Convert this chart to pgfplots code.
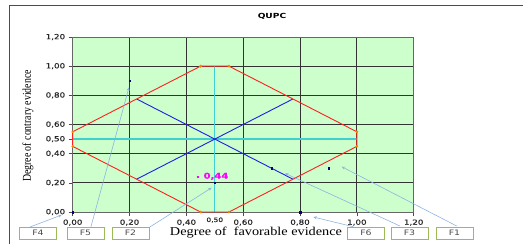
\documentclass[border=0pt]{standalone}
\usepackage{pgfplots}
\pgfplotsset{compat=1.18}
\usepackage{fontspec}
\setmainfont{Liberation Serif}
\newfontfamily\tickfont[FakeStretch=1.25,FakeBold=0.6]{DejaVu Sans}
\newfontfamily\boxfont[FakeStretch=1.25]{DejaVu Sans}
\newfontfamily\titlefont[FakeStretch=1.3]{DejaVu Sans}
\newfontfamily\xlabfont[FakeStretch=1.19]{Liberation Serif}
\newfontfamily\ylabfont[FakeStretch=0.82]{Liberation Serif}
\usetikzlibrary{arrows.meta}
\definecolor{bggreen}{HTML}{CCFFCC}
\definecolor{octred}{HTML}{FF2020}
\definecolor{octblue}{HTML}{2020E0}
\definecolor{turq}{HTML}{40D0D0}
\definecolor{navy}{HTML}{000080}
\definecolor{callblue}{HTML}{8DB4E2}
\definecolor{boxgreen}{HTML}{9BBB59}
\definecolor{magent}{HTML}{FF00FF}
\begin{document}
\begin{tikzpicture}[x=1pt,y=1pt]
\useasboundingbox (-72.7,-32) rectangle (450.3,212);
\draw[black!70, line width=0.8pt] (-63.7,-32) -- (-63.7,207) -- (450.3,207);
\begin{axis}[
  at={(0,0)}, anchor=south west,
  scale only axis, width=341pt, height=175pt,
  xmin=0, xmax=1.2, ymin=0, ymax=1.2,
  axis background/.style={fill=bggreen},
  axis line style={black!60, line width=0.6pt},
  xtick={0,0.2,0.4,0.6,0.8,1.0,1.2},
  ytick={0,0.2,0.4,0.6,0.8,1.0,1.2},
  extra y ticks={0.5},
  extra y tick style={grid=none},
  extra x ticks={0.5},
  extra x tick style={grid=none, major tick length=0pt, tick label style={yshift=-2pt, font=\tickfont\fontsize{6}{7}\selectfont}},
  grid=major,
  grid style={black!80, line width=0.9pt},
  tick align=outside,
  major tick length=4pt,
  tick style={black!70, line width=0.6pt},
  xtick pos=bottom, ytick pos=left,
  /pgf/number format/.cd, fixed, fixed zerofill, precision=2, use comma, assume math mode=true,
  /pgfplots/.cd,
  tick label style={font=\tickfont\fontsize{7}{8}\selectfont, black!85},
  clip=false,
]
\addplot[turq, line width=1.4pt] coordinates {(0.5,0) (0.5,1)};
\addplot[turq, line width=1.4pt] coordinates {(0,0.5) (1,0.5)};
\addplot[octblue, line width=0.9pt] coordinates {(0.225,0.775) (0.775,0.225)};
\addplot[octblue, line width=0.9pt] coordinates {(0.225,0.225) (0.775,0.775)};
\addplot[octred, line width=0.9pt, mark=*, mark size=0.8pt, mark options={fill=orange, draw=orange}]
  coordinates {(0.45,1) (0.55,1) (1,0.55) (1,0.45) (0.55,0) (0.45,0) (0,0.45) (0,0.55) (0.45,1)};
\addplot[only marks, mark=square*, mark size=0.7pt, navy]
  coordinates {(0,0) (0.2,0.9) (0.5,0.2) (0.8,0) (0.7,0.3) (0.9,0.3)};
\node[anchor=west, inner sep=0pt, magent, font=\tickfont\bfseries\fontsize{8}{9}\selectfont] at (axis cs:0.435,0.245) {\rule[0.6pt]{2.6pt}{2pt}\hspace{4.5pt}0,44};
\end{axis}
\node[font=\titlefont\bfseries\fontsize{7}{8}\selectfont] at (199.3,196) {QUPC};
\node[font=\xlabfont\fontsize{12}{14}\selectfont] at (183.3,-20.5) {Degree of\ \ favorable evidence};
\node[rotate=90, font=\ylabfont\fontsize{12}{14}\selectfont] at (-44.7,86) {Degree of contrary evidence};
% callouts
\begin{scope}[callblue, line width=0.6pt, -{Stealth[length=3.5pt,width=3pt]}]
\draw (-42.7,-15) -- (-11,-3);
\draw (18,-15.7) -- (56.3,124.7);
\draw (75.6,-16) -- (139,24.3);
\draw (280.6,-14.7) -- (240.6,-5);
\draw (327.3,-14) -- (212.3,38.7);
\draw (384,-14) -- (269,45.3);
\end{scope}
\begin{scope}[every node/.style={draw=boxgreen, line width=0.6pt, fill=white, minimum width=37pt, minimum height=12pt, inner sep=0pt, font=\boxfont\fontsize{7.5}{8}\selectfont, text=black!70}]
\node at (-34.7,-21) {F4};
\node at (12.8,-21) {F5};
\node at (57.8,-21) {F2};
\node at (293.3,-21) {F6};
\node at (336.8,-21) {F3};
\node at (381.8,-21) {F1};
\end{scope}
\end{tikzpicture}
\end{document}
